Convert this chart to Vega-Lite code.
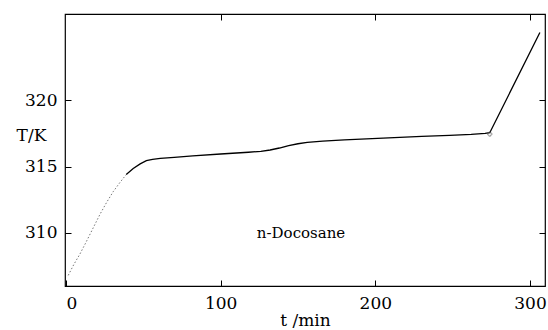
{
  "$schema": "https://vega.github.io/schema/vega-lite/v6.json",
  "width": 480,
  "height": 272,
  "autosize": "none",
  "padding": {"left": 65, "top": 14, "right": 3, "bottom": 44},
  "background": "white",
  "config": {
    "view": {"stroke": "black", "strokeWidth": 1.2},
    "font": "DejaVu Serif",
    "axis": {
      "grid": false,
      "domain": false,
      "tickColor": "black",
      "tickSize": 6,
      "offset": -6,
      "labelFont": "DejaVu Serif",
      "labelFontSize": 17,
      "labelColor": "black",
      "titleFont": "DejaVu Serif",
      "titleFontSize": 17,
      "titleFontWeight": "normal",
      "titleColor": "black"
    }
  },
  "datasets": {
    "curve": [
      {"t": 1.5, "T": 306.8}, {"t": 5, "T": 307.6}, {"t": 9, "T": 308.4}, {"t": 13, "T": 309.3},
      {"t": 17.7, "T": 310.4}, {"t": 22, "T": 311.4}, {"t": 26.3, "T": 312.3}, {"t": 30.5, "T": 313.1},
      {"t": 34.9, "T": 313.8}, {"t": 39, "T": 314.4}, {"t": 43.5, "T": 314.85}, {"t": 48, "T": 315.2},
      {"t": 52, "T": 315.45}, {"t": 56, "T": 315.55}, {"t": 61, "T": 315.62}, {"t": 70, "T": 315.7},
      {"t": 82, "T": 315.8}, {"t": 100, "T": 315.95}, {"t": 118, "T": 316.08}, {"t": 126, "T": 316.15},
      {"t": 132, "T": 316.25}, {"t": 138, "T": 316.4}, {"t": 144, "T": 316.58}, {"t": 150, "T": 316.72},
      {"t": 156, "T": 316.82}, {"t": 166, "T": 316.92}, {"t": 180, "T": 317.02}, {"t": 205, "T": 317.15},
      {"t": 230, "T": 317.28}, {"t": 248, "T": 317.35}, {"t": 262, "T": 317.42}, {"t": 271, "T": 317.5},
      {"t": 274, "T": 317.55}, {"t": 306.4, "T": 325.1}
    ],
    "marker": [{"t": 274, "T": 317.45}],
    "label": [{"t": 152, "T": 310.0, "name": "n-Docosane"}]
  },
  "layer": [
    {
      "data": {"name": "curve"},
      "transform": [{"filter": "datum.t <= 39"}],
      "mark": {"type": "line", "color": "#777777", "strokeWidth": 1, "strokeDash": [1.5, 2]},
      "encoding": {
        "x": {
          "field": "t", "type": "quantitative",
          "scale": {"domain": [-0.6, 309.7], "nice": false, "zero": false},
          "axis": {"values": [0, 100, 200, 300], "title": "t /min", "labelPadding": 9, "titlePadding": 1}
        },
        "y": {
          "field": "T", "type": "quantitative",
          "scale": {"domain": [306, 326.5], "nice": false, "zero": false},
          "axis": {"values": [310, 315, 320], "title": "T/K", "titleAngle": 0, "titleAlign": "center", "titleBaseline": "middle", "titleX": -40, "titleY": 121, "labelPadding": 8}
        }
      }
    },
    {
      "data": {"name": "curve"},
      "transform": [{"filter": "datum.t >= 39"}],
      "mark": {"type": "line", "color": "black", "strokeWidth": 1.3},
      "encoding": {
        "x": {"field": "t", "type": "quantitative", "axis": {"orient": "top", "values": [100, 200, 300], "labels": false, "title": null}},
        "y": {"field": "T", "type": "quantitative", "axis": {"orient": "right", "values": [310, 315, 320], "labels": false, "title": null}}
      }
    },
    {
      "data": {"name": "marker"},
      "mark": {"type": "point", "shape": "cross", "size": 18, "filled": false, "stroke": "#555555", "strokeWidth": 0.8},
      "encoding": {
        "x": {"field": "t", "type": "quantitative", "axis": null},
        "y": {"field": "T", "type": "quantitative", "axis": null}
      }
    },
    {
      "data": {"name": "label"},
      "mark": {"type": "text", "font": "DejaVu Serif", "fontSize": 15, "color": "black", "align": "center", "baseline": "middle"},
      "encoding": {
        "x": {"field": "t", "type": "quantitative", "axis": null},
        "y": {"field": "T", "type": "quantitative", "axis": null},
        "text": {"field": "name"}
      }
    }
  ],
  "resolve": {"axis": {"x": "independent", "y": "independent"}}
}
